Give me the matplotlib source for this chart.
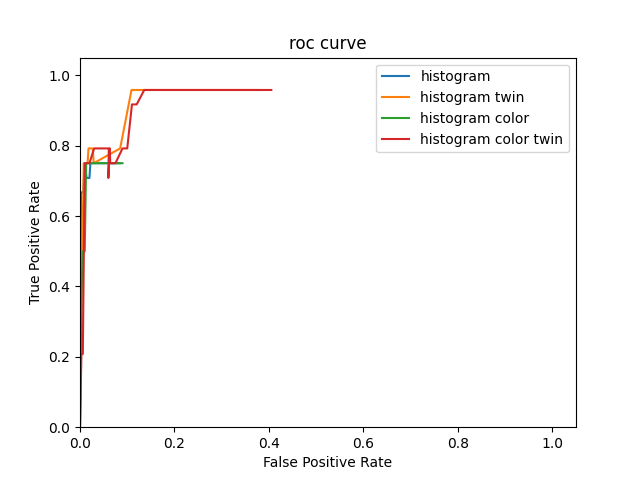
import matplotlib
matplotlib.use("Agg")
import matplotlib.pyplot as plt

fpr_hist = [0.0, 0.002, 0.007, 0.010, 0.014, 0.020, 0.022, 0.085]
tpr_hist = [0.0, 0.667, 0.667, 0.750, 0.708, 0.708, 0.750, 0.750]

fpr_twin = [0.0, 0.003, 0.008, 0.016, 0.018, 0.027, 0.029, 0.085, 0.109, 0.380]
tpr_twin = [0.0, 0.333, 0.750, 0.750, 0.792, 0.792, 0.750, 0.792, 0.958, 0.958]

fpr_color = [0.0, 0.001, 0.003, 0.006, 0.010, 0.013, 0.090]
tpr_color = [0.0, 0.125, 0.375, 0.500, 0.500, 0.750, 0.750]

fpr_ctwin = [0.0, 0.003, 0.006, 0.010, 0.020, 0.030, 0.061, 0.060, 0.063, 0.064,
             0.075, 0.090, 0.100, 0.110, 0.120, 0.136, 0.405]
tpr_ctwin = [0.0, 0.208, 0.208, 0.750, 0.750, 0.792, 0.792, 0.708, 0.792, 0.750,
             0.750, 0.792, 0.792, 0.917, 0.917, 0.958, 0.958]

plt.figure(figsize=(6.4, 4.8))
plt.plot(fpr_hist, tpr_hist, label="histogram")
plt.plot(fpr_twin, tpr_twin, label="histogram twin")
plt.plot(fpr_color, tpr_color, label="histogram color")
plt.plot(fpr_ctwin, tpr_ctwin, label="histogram color twin")
plt.xlim(0.0, 1.05)
plt.ylim(0.0, 1.05)
plt.xlabel("False Positive Rate")
plt.ylabel("True Positive Rate")
plt.title("roc curve")
plt.legend(loc="upper right")
plt.savefig("out.png", dpi=100)
